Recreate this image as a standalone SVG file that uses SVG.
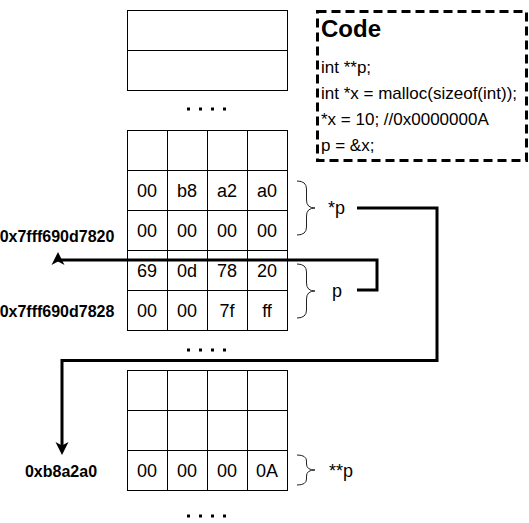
<svg xmlns="http://www.w3.org/2000/svg" width="529" height="523" viewBox="0 0 529 523">
<style>
.cell{fill:#fff;stroke:#000;stroke-width:1}
.ct{font-family:"Liberation Sans",Arial,sans-serif;font-size:18px;text-anchor:middle;fill:#000}
.addr{font-family:"Liberation Sans",Arial,sans-serif;font-size:16px;font-weight:bold;text-anchor:middle;fill:#000}
.lbl{font-family:"Liberation Sans",Arial,sans-serif;font-size:18px;fill:#000}
.code{font-family:"Liberation Sans",Arial,sans-serif;font-size:17px;fill:#000}
.title{font-family:"Liberation Sans",Arial,sans-serif;font-size:24px;font-weight:bold;fill:#000}
.dots{stroke:#000;stroke-width:3;stroke-dasharray:3 9;fill:none}
.brace{fill:none;stroke:#222;stroke-width:1}
.conn{fill:none;stroke:#000;stroke-width:3;stroke-linejoin:miter}
</style>
<defs>
<marker id="arr" viewBox="-7 -7 15 14" markerWidth="15" markerHeight="14" refX="0" refY="0" orient="auto" markerUnits="userSpaceOnUse">
<path d="M7,0 L-6,-6.5 L-2.5,0 L-6,6.5 Z" fill="#000"/>
</marker>
</defs>
<rect width="529" height="523" fill="#fff"/>

<g id="top-block">
<rect class="cell" x="127.5" y="10.5" width="160" height="40"/>
<rect class="cell" x="127.5" y="50.5" width="160" height="40"/>
</g>
<g id="dots-1"><line class="dots" x1="187" y1="109" x2="228" y2="109"/></g>

<g id="stack-block">
<rect class="cell" x="127.5" y="130.5" width="40" height="40"/>
<rect class="cell" x="167.5" y="130.5" width="40" height="40"/>
<rect class="cell" x="207.5" y="130.5" width="40" height="40"/>
<rect class="cell" x="247.5" y="130.5" width="40" height="40"/>
<rect class="cell" x="127.5" y="170.5" width="40" height="40"/>
<rect class="cell" x="167.5" y="170.5" width="40" height="40"/>
<rect class="cell" x="207.5" y="170.5" width="40" height="40"/>
<rect class="cell" x="247.5" y="170.5" width="40" height="40"/>
<rect class="cell" x="127.5" y="210.5" width="40" height="40"/>
<rect class="cell" x="167.5" y="210.5" width="40" height="40"/>
<rect class="cell" x="207.5" y="210.5" width="40" height="40"/>
<rect class="cell" x="247.5" y="210.5" width="40" height="40"/>
<rect class="cell" x="127.5" y="250.5" width="40" height="40"/>
<rect class="cell" x="167.5" y="250.5" width="40" height="40"/>
<rect class="cell" x="207.5" y="250.5" width="40" height="40"/>
<rect class="cell" x="247.5" y="250.5" width="40" height="40"/>
<rect class="cell" x="127.5" y="290.5" width="40" height="40"/>
<rect class="cell" x="167.5" y="290.5" width="40" height="40"/>
<rect class="cell" x="207.5" y="290.5" width="40" height="40"/>
<rect class="cell" x="247.5" y="290.5" width="40" height="40"/>
<text class="ct" x="147" y="197">00</text>
<text class="ct" x="187" y="197">b8</text>
<text class="ct" x="227" y="197">a2</text>
<text class="ct" x="267" y="197">a0</text>
<text class="ct" x="147" y="237">00</text>
<text class="ct" x="187" y="237">00</text>
<text class="ct" x="227" y="237">00</text>
<text class="ct" x="267" y="237">00</text>
<text class="ct" x="147" y="277">69</text>
<text class="ct" x="187" y="277">0d</text>
<text class="ct" x="227" y="277">78</text>
<text class="ct" x="267" y="277">20</text>
<text class="ct" x="147" y="317">00</text>
<text class="ct" x="187" y="317">00</text>
<text class="ct" x="227" y="317">7f</text>
<text class="ct" x="267" y="317">ff</text>
</g>
<g id="dots-2"><line class="dots" x1="187" y1="350" x2="228" y2="350"/></g>

<g id="heap-block">
<rect class="cell" x="127.5" y="370.5" width="40" height="40"/>
<rect class="cell" x="167.5" y="370.5" width="40" height="40"/>
<rect class="cell" x="207.5" y="370.5" width="40" height="40"/>
<rect class="cell" x="247.5" y="370.5" width="40" height="40"/>
<rect class="cell" x="127.5" y="410.5" width="40" height="40"/>
<rect class="cell" x="167.5" y="410.5" width="40" height="40"/>
<rect class="cell" x="207.5" y="410.5" width="40" height="40"/>
<rect class="cell" x="247.5" y="410.5" width="40" height="40"/>
<rect class="cell" x="127.5" y="450.5" width="40" height="40"/>
<rect class="cell" x="167.5" y="450.5" width="40" height="40"/>
<rect class="cell" x="207.5" y="450.5" width="40" height="40"/>
<rect class="cell" x="247.5" y="450.5" width="40" height="40"/>
<text class="ct" x="147" y="477">00</text>
<text class="ct" x="187" y="477">00</text>
<text class="ct" x="227" y="477">00</text>
<text class="ct" x="267" y="477">0A</text>
</g>
<g id="dots-3"><line class="dots" x1="187" y1="516" x2="228" y2="516"/></g>

<g id="addr-7820"><text class="addr" x="57" y="241.5">0x7fff690d7820</text></g>
<g id="addr-7828"><text class="addr" x="57" y="317">0x7fff690d7828</text></g>
<g id="addr-b8a2a0"><text class="addr" x="61" y="477">0xb8a2a0</text></g>

<g id="label-deref-p">
<path class="brace" d="M297,181 Q306.5,181 306.5,189 V200 Q306.5,208 315,208 Q306.5,208 306.5,216 V227 Q306.5,235 297,235"/>
<text class="lbl" x="328" y="214">*p</text>
</g>
<g id="label-p">
<path class="brace" d="M297,264 Q306.5,264 306.5,272 V283 Q306.5,291 315,291 Q306.5,291 306.5,299 V310 Q306.5,318 297,318"/>
<text class="lbl" x="332" y="297">p</text>
</g>
<g id="label-pp">
<path class="brace" d="M297,455 Q306.5,455 306.5,461 V464 Q306.5,470 315,470 Q306.5,470 306.5,476 V479 Q306.5,485 297,485"/>
<text class="lbl" x="329" y="477">**p</text>
</g>

<g id="code-box">
<rect x="317.5" y="11.5" width="209" height="149" fill="#fff" stroke="#000" stroke-width="3" stroke-dasharray="9 5"/>
<text class="title" x="321" y="37">Code</text>
<text class="code" x="321" y="73">int **p;</text>
<text class="code" x="321" y="98.5">int *x = malloc(sizeof(int));</text>
<text class="code" x="321" y="124.5">*x = 10; //0x0000000A</text>
<text class="code" x="321" y="150.5">p = &amp;x;</text>
</g>

<g id="connectors">
<path class="conn" d="M357,290 H377 V260 H58 V259" marker-end="url(#arr)"/>
<path class="conn" d="M357,208 H437 V360.5 H62 V448" marker-end="url(#arr)"/>
</g>
</svg>
